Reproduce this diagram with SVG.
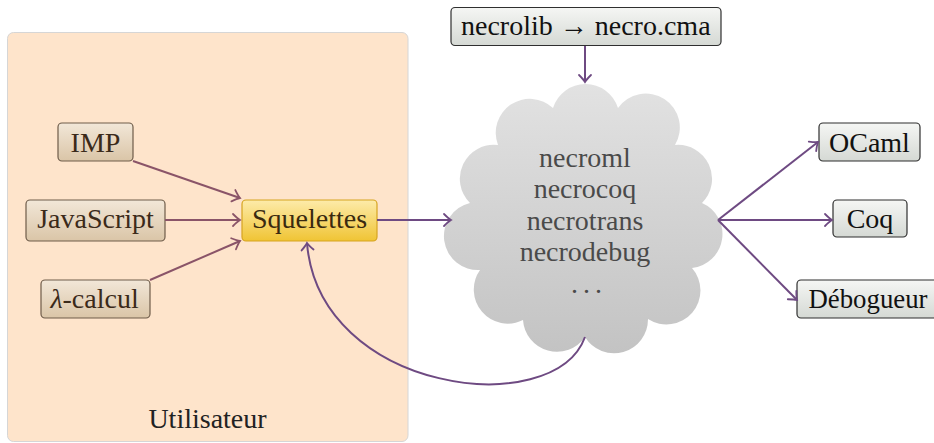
<svg xmlns="http://www.w3.org/2000/svg" width="934" height="443" viewBox="0 0 934 443">
<defs>
<linearGradient id="gSrc" x1="0" y1="0" x2="0" y2="1"><stop offset="0" stop-color="#f2e7d8"/><stop offset="1" stop-color="#dac5a7"/></linearGradient>
<linearGradient id="gSq" x1="0" y1="0" x2="0" y2="1"><stop offset="0" stop-color="#fdebaa"/><stop offset="1" stop-color="#f0c434"/></linearGradient>
<linearGradient id="gGray" x1="0" y1="0" x2="0" y2="1"><stop offset="0" stop-color="#f5f6f4"/><stop offset="1" stop-color="#d5d9d4"/></linearGradient>
<linearGradient id="gCloud" x1="0" y1="0" x2="0" y2="1"><stop offset="0" stop-color="#e2e2e2"/><stop offset="1" stop-color="#c3c3c3"/></linearGradient>
<marker id="am" viewBox="-10 -8 12 16" markerWidth="12" markerHeight="16" refX="0" refY="0" orient="auto" markerUnits="userSpaceOnUse"><path d="M-7,-6 Q-2.5,-1.5 0,0 Q-2.5,1.5 -7,6" fill="none" stroke="#8a5468" stroke-width="1.8" stroke-linecap="round"/></marker>
<marker id="ap" viewBox="-10 -8 12 16" markerWidth="12" markerHeight="16" refX="0" refY="0" orient="auto" markerUnits="userSpaceOnUse"><path d="M-7,-6 Q-2.5,-1.5 0,0 Q-2.5,1.5 -7,6" fill="none" stroke="#6e4a82" stroke-width="1.8" stroke-linecap="round"/></marker>
</defs>
<g id="utilisateur">
<rect x="7.5" y="32.5" width="400.5" height="409" rx="6" fill="#fee4cb" stroke="#d6d6d6" stroke-width="1"/>
<text x="148.4" y="428" fill="#222" font-family="Liberation Serif" font-size="28">Utilisateur</text>
</g>
<g id="cloud">
<path d="M553,108 A34,34 0 0 1 618,108 A34,34 0 0 1 675,145 A34,34 0 0 1 702,203 A34,34 0 0 1 692,268 A34,34 0 0 1 648,319 A34,34 0 0 1 585,337 A34,34 0 0 1 523,320 A34,34 0 0 1 480,270 A34,34 0 0 1 470,203 A34,34 0 0 1 498,145 A34,34 0 0 1 553,108 Z" fill="url(#gCloud)"/>
<text x="539.1" y="167" fill="#4a4a4a" font-family="Liberation Serif" font-size="28">necroml</text>
<text x="533.7" y="198" fill="#4a4a4a" font-family="Liberation Serif" font-size="28">necrocoq</text>
<text x="526.7" y="230" fill="#4a4a4a" font-family="Liberation Serif" font-size="28">necrotrans</text>
<text x="519.7" y="261" fill="#4a4a4a" font-family="Liberation Serif" font-size="28">necrodebug</text>
<text x="571" y="293" fill="#4a4a4a" font-family="Liberation Serif" font-size="28" letter-spacing="5">...</text>
</g>
<g id="imp"><rect x="58" y="123" width="75" height="38" rx="4" fill="url(#gSrc)" stroke="#6e5c4a" stroke-width="1.2"/><text x="70.6" y="152" fill="#3b2a1a" font-family="Liberation Serif" font-size="28">IMP</text></g>
<g id="javascript"><rect x="26" y="200" width="139" height="41" rx="4" fill="url(#gSrc)" stroke="#6e5c4a" stroke-width="1.2"/><text x="37.2" y="228" fill="#3b2a1a" font-family="Liberation Serif" font-size="28">JavaScript</text></g>
<g id="lambda"><rect x="41" y="280" width="109" height="38" rx="4" fill="url(#gSrc)" stroke="#6e5c4a" stroke-width="1.2"/><text x="50.4" y="308" fill="#3b2a1a" font-family="Liberation Serif" font-size="28"><tspan font-style="italic">&#955;</tspan>-calcul</text></g>
<g id="squelettes"><rect x="242" y="200" width="135" height="41" rx="4" fill="url(#gSq)" stroke="#d6a420" stroke-width="1.2"/><text x="252" y="228" fill="#3a2a10" font-family="Liberation Serif" font-size="28">Squelettes</text></g>
<g id="necrolib"><rect x="451" y="7.5" width="270" height="38" rx="4" fill="url(#gGray)" stroke="#2f2f2f" stroke-width="1.2"/><text x="461" y="35" fill="#111" font-family="Liberation Serif" font-size="28">necrolib &#8594; necro.cma</text></g>
<g id="ocaml"><rect x="819" y="123" width="101" height="38" rx="4" fill="url(#gGray)" stroke="#2f2f2f" stroke-width="1.2"/><text x="829" y="152" fill="#111" font-family="Liberation Serif" font-size="28">OCaml</text></g>
<g id="coq"><rect x="833" y="200" width="74" height="37" rx="4" fill="url(#gGray)" stroke="#2f2f2f" stroke-width="1.2"/><text x="846.7" y="228" fill="#111" font-family="Liberation Serif" font-size="28">Coq</text></g>
<g id="debogueur"><rect x="797" y="280" width="145" height="38" rx="4" fill="url(#gGray)" stroke="#2f2f2f" stroke-width="1.2"/><text x="808.5" y="308" fill="#111" font-family="Liberation Serif" font-size="28" textLength="119" lengthAdjust="spacingAndGlyphs">D&#233;bogueur</text></g>
<g id="connectors" fill="none" stroke-width="2">
<path stroke="#8a5468" marker-end="url(#am)" d="M133,161 L240,198"/>
<path stroke="#8a5468" marker-end="url(#am)" d="M165,220 L240,220"/>
<path stroke="#8a5468" marker-end="url(#am)" d="M150,280 L240,241"/>
<path stroke="#6e4a82" marker-end="url(#ap)" d="M377,220 L451,220"/>
<path stroke="#6e4a82" marker-end="url(#ap)" d="M585,46 L585,82"/>
<path stroke="#6e4a82" marker-end="url(#ap)" d="M718,220 L818,142"/>
<path stroke="#6e4a82" marker-end="url(#ap)" d="M718,220 L832,220"/>
<path stroke="#6e4a82" marker-end="url(#ap)" d="M718,220 L797,300"/>
<path stroke="#6e4a82" marker-end="url(#ap)" d="M585,337 C554,422 319,393 307,243"/>
</g>
</svg>
